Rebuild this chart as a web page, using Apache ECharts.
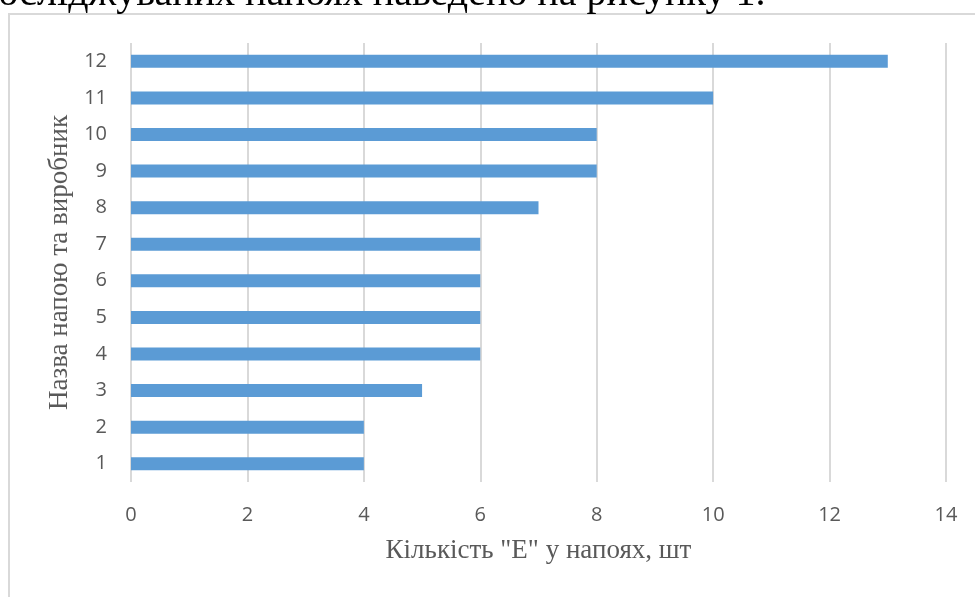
<!DOCTYPE html>
<html>
<head>
<meta charset="utf-8">
<script src="https://cdn.jsdelivr.net/npm/echarts@6/dist/echarts.min.js"></script>
<style>
  html, body { margin: 0; padding: 0; background: #fff; }
  #chart { width: 975px; height: 597px; }
</style>
</head>
<body>
<div id="chart"></div>
<script>
// data
const drinks = ['1', '2', '3', '4', '5', '6', '7', '8', '9', '10', '11', '12'];
const eCount = [4, 4, 5, 6, 6, 6, 6, 7, 8, 8, 10, 13];
const xTicks = { min: 0, max: 14, interval: 2 };

const xTitle = 'Кількість "Е" у напоях, шт';
const yTitle = 'Назва напою та виробник';
const caption = 'досліджуваних напоях наведено на рисунку 1.';

const serif = '"Liberation Serif", "Times New Roman", serif';
const sans = '"Open Sans", "Liberation Sans", sans-serif';

let chart = echarts.init(document.getElementById('chart'));
chart.setOption({
  animation: false,
  grid: { left: 131, right: 29, top: 43, bottom: 115, containLabel: false },
  xAxis: {
    type: 'value',
    min: xTicks.min,
    max: xTicks.max,
    interval: xTicks.interval,
    axisLine: { show: false },
    axisTick: { show: false },
    axisLabel: { color: '#595959', fontSize: 20, fontFamily: sans, margin: 23 },
    splitLine: { lineStyle: { color: '#d9d9d9', width: 2 } },
    name: xTitle,
    nameLocation: 'middle',
    nameGap: 55,
    nameTextStyle: { color: '#595959', fontSize: 27, fontFamily: serif }
  },
  yAxis: {
    type: 'category',
    data: drinks,
    axisLine: { show: false },
    axisTick: { show: false },
    axisLabel: { color: '#595959', fontSize: 20, fontFamily: sans, margin: 24 },
    name: yTitle,
    nameLocation: 'middle',
    nameGap: 55,
    nameTextStyle: { color: '#595959', fontSize: 27, fontFamily: serif }
  },
  series: [
    {
      type: 'bar',
      data: eCount,
      barWidth: 13,
      itemStyle: { color: '#5b9bd5' }
    }
  ],
  graphic: [
    {
      type: 'rect',
      shape: { x: 9, y: 14, width: 1000, height: 700 },
      style: { fill: 'none', stroke: '#d9d9d9', lineWidth: 2 },
      silent: true,
      z: -1
    },
    {
      type: 'text',
      left: -22,
      top: -26,
      style: { text: caption, font: '40px ' + serif, fill: '#000' }
    }
  ]
});
</script>
</body>
</html>
